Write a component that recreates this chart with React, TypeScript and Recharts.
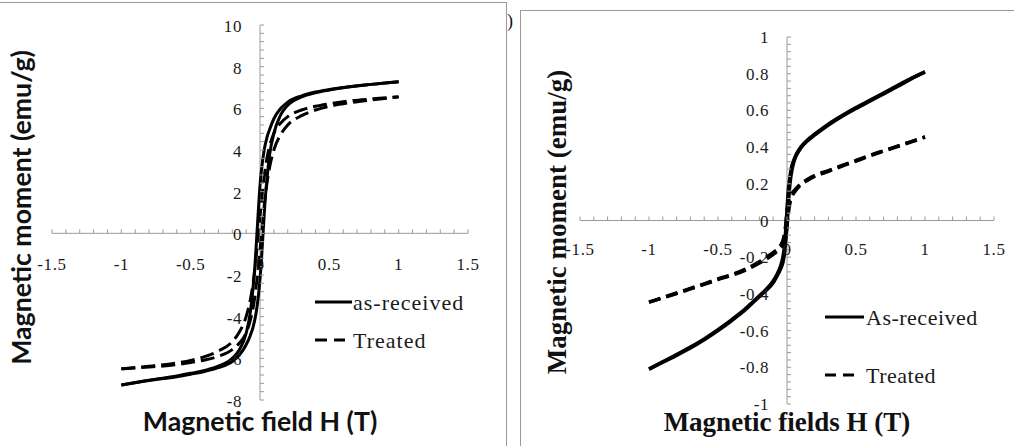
import React from 'react';
import { LineChart, Line, XAxis, YAxis, CartesianGrid, ReferenceLine, ReferenceDot, Legend } from 'recharts';

// ---------------- Left panel: ticks ----------------
const aXTicks = [-1.5, -1, -0.5, 0, 0.5, 1, 1.5];
const aYTicks = [-8, -6, -4, -2, 0, 2, 4, 6, 8, 10];
const aXMinor = [-1.5, -1.4, -1.3, -1.2, -1.1, -1, -0.9, -0.8, -0.7, -0.6, -0.5, -0.4, -0.3, -0.2, -0.1, 0, 0.1, 0.2, 0.3, 0.4, 0.5, 0.6, 0.7, 0.8, 0.9, 1, 1.1, 1.2, 1.3, 1.4, 1.5];
const aYMinor = [-8, -7.6, -7.2, -6.8, -6.4, -6, -5.6, -5.2, -4.8, -4.4, -4, -3.6, -3.2, -2.8, -2.4, -2, -1.6, -1.2, -0.8, -0.4, 0, 0.4, 0.8, 1.2, 1.6, 2, 2.4, 2.8, 3.2, 3.6, 4, 4.4, 4.8, 5.2, 5.6, 6, 6.4, 6.8, 7.2, 7.6, 8, 8.4, 8.8, 9.2, 9.6, 10];

// ---------------- Left panel: data ----------------
// as-received, descending-field branch
const aRecDownH = [-1, -0.8, -0.6, -0.5, -0.4, -0.3, -0.2, -0.15, -0.1, -0.07, -0.05, -0.035, -0.022, -0.01, 0, 0.01, 0.03, 0.05, 0.07, 0.1, 0.15, 0.2, 0.3, 0.4, 0.5, 0.6, 0.8, 1];
const aRecDownM = [-7.28, -7.05, -6.85, -6.72, -6.58, -6.38, -6.0, -5.6, -4.8, -3.8, -2.6, -1.4, 0, 1.3, 2.3, 3.0, 4.0, 4.6, 5.0, 5.5, 6.0, 6.3, 6.6, 6.78, 6.9, 7.0, 7.15, 7.28];
// as-received, ascending-field branch
const aRecUpH = [-1, -0.8, -0.6, -0.5, -0.4, -0.3, -0.2, -0.15, -0.1, -0.07, -0.05, -0.03, -0.01, 0, 0.01, 0.022, 0.035, 0.05, 0.07, 0.1, 0.15, 0.2, 0.3, 0.4, 0.5, 0.6, 0.8, 1];
const aRecUpM = [-7.28, -7.06, -6.88, -6.76, -6.63, -6.45, -6.15, -5.85, -5.35, -4.9, -4.5, -3.9, -2.9, -2.2, -1.3, 0, 1.4, 2.6, 3.8, 4.8, 5.7, 6.15, 6.55, 6.75, 6.88, 6.99, 7.15, 7.28];
// treated, descending-field branch
const aTrtDownH = [-1, -0.8, -0.6, -0.5, -0.4, -0.3, -0.2, -0.15, -0.1, -0.07, -0.05, -0.03, -0.012, 0, 0.01, 0.03, 0.05, 0.07, 0.1, 0.15, 0.2, 0.3, 0.4, 0.5, 0.6, 0.8, 1];
const aTrtDownM = [-6.5, -6.38, -6.22, -6.1, -5.92, -5.65, -5.2, -4.75, -4.0, -3.2, -2.4, -1.3, 0, 0.8, 1.5, 2.7, 3.6, 4.2, 4.8, 5.3, 5.6, 5.92, 6.1, 6.22, 6.32, 6.45, 6.55];
// treated, ascending-field branch
const aTrtUpH = [-1, -0.8, -0.6, -0.5, -0.4, -0.3, -0.2, -0.15, -0.1, -0.07, -0.05, -0.03, -0.01, 0, 0.012, 0.03, 0.05, 0.07, 0.1, 0.15, 0.2, 0.3, 0.4, 0.5, 0.6, 0.8, 1];
const aTrtUpM = [-6.5, -6.42, -6.3, -6.2, -6.08, -5.9, -5.58, -5.28, -4.78, -4.18, -3.58, -2.68, -1.5, -0.8, 0, 1.3, 2.4, 3.2, 4.0, 4.75, 5.2, 5.65, 5.92, 6.1, 6.22, 6.4, 6.55];

// ---------------- Right panel: ticks ----------------
const bXTicks = [-1.5, -1, -0.5, 0, 0.5, 1, 1.5];
const bYTicks = [-1, -0.8, -0.6, -0.4, -0.2, 0, 0.2, 0.4, 0.6, 0.8, 1];
const bXMinor = [-1.5, -1.4, -1.3, -1.2, -1.1, -1, -0.9, -0.8, -0.7, -0.6, -0.5, -0.4, -0.3, -0.2, -0.1, 0, 0.1, 0.2, 0.3, 0.4, 0.5, 0.6, 0.7, 0.8, 0.9, 1, 1.1, 1.2, 1.3, 1.4, 1.5];
const bYMinor = [-1, -0.96, -0.92, -0.88, -0.84, -0.8, -0.76, -0.72, -0.68, -0.64, -0.6, -0.56, -0.52, -0.48, -0.44, -0.4, -0.36, -0.32, -0.28, -0.24, -0.2, -0.16, -0.12, -0.08, -0.04, 0, 0.04, 0.08, 0.12, 0.16, 0.2, 0.24, 0.28, 0.32, 0.36, 0.4, 0.44, 0.48, 0.52, 0.56, 0.6, 0.64, 0.68, 0.72, 0.76, 0.8, 0.84, 0.88, 0.92, 0.96, 1];

// ---------------- Right panel: data ----------------
const bRecDownH = [-1, -0.9, -0.8, -0.7, -0.6, -0.5, -0.4, -0.3, -0.25, -0.2, -0.15, -0.1, -0.07, -0.05, -0.03, -0.02, -0.01, 0, 0.01, 0.02, 0.03, 0.05, 0.07, 0.1, 0.15, 0.2, 0.3, 0.4, 0.5, 0.6, 0.7, 0.8, 0.9, 1];
const bRecDownM = [-0.81, -0.77, -0.73, -0.69, -0.645, -0.595, -0.54, -0.48, -0.445, -0.41, -0.375, -0.33, -0.29, -0.255, -0.2, -0.15, -0.06, 0.06, 0.17, 0.23, 0.28, 0.33, 0.365, 0.4, 0.44, 0.47, 0.525, 0.572, 0.615, 0.655, 0.695, 0.735, 0.775, 0.81];
const bRecUpH = [-1, -0.9, -0.8, -0.7, -0.6, -0.5, -0.4, -0.3, -0.25, -0.2, -0.15, -0.1, -0.07, -0.05, -0.03, -0.02, -0.01, 0, 0.01, 0.02, 0.03, 0.05, 0.07, 0.1, 0.15, 0.2, 0.3, 0.4, 0.5, 0.6, 0.7, 0.8, 0.9, 1];
const bRecUpM = [-0.81, -0.772, -0.735, -0.695, -0.65, -0.6, -0.545, -0.485, -0.45, -0.415, -0.38, -0.34, -0.3, -0.27, -0.23, -0.19, -0.12, -0.03, 0.09, 0.19, 0.25, 0.32, 0.358, 0.395, 0.435, 0.465, 0.52, 0.568, 0.61, 0.65, 0.69, 0.73, 0.772, 0.81];
const bTrtDownH = [-1, -0.9, -0.8, -0.7, -0.6, -0.5, -0.4, -0.3, -0.2, -0.15, -0.1, -0.05, -0.03, -0.02, -0.01, 0, 0.01, 0.02, 0.03, 0.05, 0.1, 0.15, 0.2, 0.3, 0.4, 0.5, 0.6, 0.7, 0.8, 0.9, 1];
const bTrtDownM = [-0.445, -0.42, -0.395, -0.37, -0.345, -0.318, -0.295, -0.265, -0.225, -0.2, -0.175, -0.14, -0.11, -0.08, -0.03, 0.05, 0.1, 0.12, 0.14, 0.16, 0.2, 0.225, 0.245, 0.272, 0.3, 0.327, 0.355, 0.38, 0.405, 0.43, 0.455];
const bTrtUpH = [-1, -0.9, -0.8, -0.7, -0.6, -0.5, -0.4, -0.3, -0.2, -0.15, -0.1, -0.05, -0.03, -0.02, -0.01, 0, 0.01, 0.02, 0.03, 0.05, 0.1, 0.15, 0.2, 0.3, 0.4, 0.5, 0.6, 0.7, 0.8, 0.9, 1];
const bTrtUpM = [-0.445, -0.422, -0.398, -0.373, -0.348, -0.322, -0.298, -0.27, -0.232, -0.21, -0.185, -0.15, -0.13, -0.11, -0.08, -0.03, 0.04, 0.09, 0.12, 0.15, 0.195, 0.22, 0.24, 0.268, 0.297, 0.324, 0.352, 0.378, 0.403, 0.428, 0.455];

type Pt = { h: number; m: number };
const zip = (h: number[], m: number[]): Pt[] => h.map((x, i) => ({ h: x, m: m[i] }));

type Series = { name: string; dash?: string; branches: Pt[][] };

const GRID = '#9a9a9a';
const SERIF = 'Liberation Serif, DejaVu Serif, Tinos, Times New Roman, Times, Noto Serif, serif';
const SANS = 'Lato, Noto Sans, sans-serif';

type PanelProps = {
  left: number;
  width: number;
  height: number;
  margin: { top: number; right: number; bottom: number; left: number };
  yAxisWidth: number;
  xAxisHeight: number;
  xDomain: [number, number];
  yDomain: [number, number];
  xTicks: number[];
  yTicks: number[];
  xMinor: number[];
  yMinor: number[];
  xLabelDy: number;
  yLabelDy: number;
  series: Series[];
  strokeWidth: number;
  xTitle: string;
  yTitle: string;
  titleFont: string;
  titleSize: number;
  yTitleBaselineX: number;
  yTitleCenterDy: number;
  legendLeft: number;
  legendTop: number;
  legendRowGap: number;
  legendSolidLen: number;
  legendDashLen: number;
  legendTextX: number;
  legendDash: string;
  legendSpacing: number;
};

function Panel(p: PanelProps) {
  const legendContent = (props: any) => {
    const names: string[] = (props.payload || []).filter((e: any) => e.type !== 'none').map((e: any) => e.value);
    const items = p.series.filter((s) => names.indexOf(s.name) >= 0);
    return (
      <svg width={200} height={p.legendRowGap + 40} style={{ display: 'block', overflow: 'visible' }}>
        {items.map((s, i) => {
          const y = 15 + i * p.legendRowGap;
          const dashed = !!s.dash;
          return (
            <g key={i}>
              <line
                x1={0}
                x2={dashed ? p.legendDashLen : p.legendSolidLen}
                y1={y}
                y2={y}
                stroke="#000"
                strokeWidth={3}
                strokeDasharray={dashed ? p.legendDash : undefined}
              />
              <text
                x={p.legendTextX}
                y={y + 8}
                style={{ fontFamily: SERIF, letterSpacing: p.legendSpacing }}
                fontSize={22}
                fill="#1a1a1a"
              >
                {s.name}
              </text>
            </g>
          );
        })}
      </svg>
    );
  };

  return (
    <div style={{ position: 'absolute', left: p.left, top: 0 }}>
      <LineChart width={p.width} height={p.height} margin={p.margin}>
        <CartesianGrid vertical={false} horizontal stroke={GRID} horizontalValues={p.yTicks} />
        <XAxis
          type="number"
          dataKey="h"
          domain={p.xDomain}
          ticks={p.xTicks}
          allowDataOverflow
          tick={false}
          tickLine={false}
          axisLine={false}
          height={p.xAxisHeight}
          label={{
            position: 'insideBottom',
            content: (lp: any) => {
              const vb = lp.viewBox;
              return (
                <text
                  x={vb.x + vb.width / 2}
                  y={vb.y + vb.height - 15}
                  textAnchor="middle"
                  style={{ fontFamily: p.titleFont }}
                  fontWeight={700}
                  fontSize={p.titleSize}
                  fill="#111"
                >
                  {p.xTitle}
                </text>
              );
            },
          }}
        />
        <YAxis
          type="number"
          dataKey="m"
          domain={p.yDomain}
          ticks={p.yTicks}
          allowDataOverflow
          interval={0}
          tick={false}
          tickLine={false}
          axisLine={false}
          width={p.yAxisWidth}
          label={{
            position: 'insideLeft',
            content: (lp: any) => {
              const vb = lp.viewBox;
              const x = vb.x + p.yTitleBaselineX;
              const y = vb.y + vb.height / 2 + p.yTitleCenterDy;
              return (
                <text
                  x={x}
                  y={y}
                  transform={`rotate(-90, ${x}, ${y})`}
                  textAnchor="middle"
                  style={{ fontFamily: p.titleFont }}
                  fontWeight={700}
                  fontSize={p.titleSize}
                  fill="#111"
                >
                  {p.yTitle}
                </text>
              );
            },
          }}
        />
        <ReferenceLine x={0} stroke={GRID} strokeWidth={1} />
        <ReferenceLine y={0} stroke={GRID} strokeWidth={1} />
        {p.xMinor.map((v) => (
          <ReferenceDot
            key={'xm' + v}
            x={v}
            y={0}
            r={0}
            ifOverflow="visible"
            shape={(s: any) => <line x1={s.cx} y1={s.cy} x2={s.cx} y2={s.cy - 4} stroke={GRID} strokeWidth={1} />}
          />
        ))}
        {p.yMinor.map((v) => (
          <ReferenceDot
            key={'ym' + v}
            x={0}
            y={v}
            r={0}
            ifOverflow="visible"
            shape={(s: any) => <line x1={s.cx} y1={s.cy} x2={s.cx + 4} y2={s.cy} stroke={GRID} strokeWidth={1} />}
          />
        ))}
        {p.xTicks.map((v) => (
          <ReferenceDot
            key={'xl' + v}
            x={v}
            y={0}
            r={0}
            ifOverflow="visible"
            shape={(s: any) => (
              <text
                x={s.cx}
                y={s.cy + p.xLabelDy}
                textAnchor="middle"
                style={{ fontFamily: SERIF, letterSpacing: 0.6 }}
                fontSize={17}
                fill="#1a1a1a"
              >
                {String(v)}
              </text>
            )}
          />
        ))}
        {p.yTicks.map((v) => (
          <ReferenceDot
            key={'yl' + v}
            x={0}
            y={v}
            r={0}
            ifOverflow="visible"
            shape={(s: any) => (
              <text
                x={s.cx - 18}
                y={s.cy + p.yLabelDy}
                textAnchor="end"
                style={{ fontFamily: SERIF, letterSpacing: 0.6 }}
                fontSize={17}
                fill="#1a1a1a"
              >
                {String(v)}
              </text>
            )}
          />
        ))}
        {p.series.map((s) =>
          s.branches.map((b, bi) => (
            <Line
              key={s.name + bi}
              data={b}
              dataKey="m"
              name={s.name}
              type="monotone"
              dot={false}
              activeDot={false}
              stroke="#000"
              strokeWidth={p.strokeWidth}
              strokeDasharray={s.dash}
              legendType={bi === 0 ? 'line' : 'none'}
              isAnimationActive={false}
            />
          ))
        )}
        <Legend
          layout="vertical"
          align="center"
          verticalAlign="middle"
          width={200}
          wrapperStyle={{ left: p.legendLeft, top: p.legendTop, width: 200 }}
          content={legendContent}
        />
      </LineChart>
    </div>
  );
}

const leftSeries: Series[] = [
  { name: 'as-received', branches: [zip(aRecDownH, aRecDownM), zip(aRecUpH, aRecUpM)] },
  { name: 'Treated', dash: '14 6', branches: [zip(aTrtDownH, aTrtDownM), zip(aTrtUpH, aTrtUpM)] },
];

const rightSeries: Series[] = [
  { name: 'As-received', branches: [zip(bRecDownH, bRecDownM), zip(bRecUpH, bRecUpM)] },
  { name: 'Treated', dash: '12 6', branches: [zip(bTrtDownH, bTrtDownM), zip(bTrtUpH, bTrtUpM)] },
];

export default function App() {
  return (
    <div
      style={{
        position: 'absolute',
        left: 0,
        top: 0,
        width: 1014,
        height: 446,
        background: '#fff',
        overflow: 'hidden',
      }}
    >
      <div
        style={{
          position: 'absolute',
          left: -2,
          top: 2,
          width: 508,
          height: 460,
          borderTop: '1px solid #9a9a9a',
          borderRight: '1px solid #9a9a9a',
        }}
      />
      <div
        style={{
          position: 'absolute',
          left: 520,
          top: 10,
          width: 500,
          height: 460,
          borderTop: '1px solid #9a9a9a',
          borderLeft: '1px solid #9a9a9a',
        }}
      />
      <Panel
        left={0}
        width={507}
        height={446}
        margin={{ top: 25, right: 39, bottom: 0, left: 0 }}
        yAxisWidth={52}
        xAxisHeight={46}
        xDomain={[-1.5, 1.5]}
        yDomain={[-8, 10]}
        xTicks={aXTicks}
        yTicks={aYTicks}
        xMinor={aXMinor}
        yMinor={aYMinor}
        xLabelDy={37}
        yLabelDy={7}
        series={leftSeries}
        strokeWidth={3}
        xTitle="Magnetic field H (T)"
        yTitle="Magnetic moment (emu/g)"
        titleFont={SANS}
        titleSize={26.7}
        yTitleBaselineX={31}
        yTitleCenterDy={-5}
        legendLeft={315}
        legendTop={287}
        legendRowGap={38}
        legendSolidLen={37}
        legendDashLen={30}
        legendTextX={38}
        legendDash="12 7"
        legendSpacing={1}
      />
      <Panel
        left={507}
        width={507}
        height={446}
        margin={{ top: 37, right: 20, bottom: 0, left: 0 }}
        yAxisWidth={73}
        xAxisHeight={42}
        xDomain={[-1.5, 1.5]}
        yDomain={[-1, 1]}
        xTicks={bXTicks}
        yTicks={bYTicks}
        xMinor={bXMinor}
        yMinor={bYMinor}
        xLabelDy={34}
        yLabelDy={6}
        series={rightSeries}
        strokeWidth={3.5}
        xTitle="Magnetic fields H (T)"
        yTitle="Magnetic moment (emu/g)"
        titleFont={SERIF}
        titleSize={27}
        yTitleBaselineX={59}
        yTitleCenterDy={1.5}
        legendLeft={318}
        legendTop={302}
        legendRowGap={58}
        legendSolidLen={39}
        legendDashLen={30}
        legendTextX={41}
        legendDash="11 7"
        legendSpacing={0.5}
      />
      <svg style={{ position: 'absolute', left: 500, top: 0 }} width={24} height={40}>
        <text x={7} y={27} style={{ fontFamily: SERIF }} fontSize={18} fill="#111">
          )
        </text>
      </svg>
    </div>
  );
}
